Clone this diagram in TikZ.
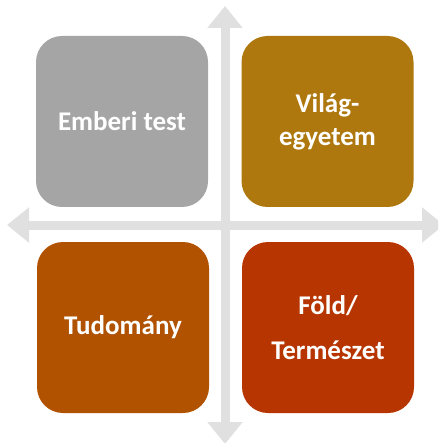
\documentclass[tikz,border=0pt]{standalone}
\usepackage{fontspec}
\setmainfont{Carlito}
\usetikzlibrary{arrows.meta}
\definecolor{axisgray}{HTML}{E0E0E0}
\definecolor{cgray}{HTML}{A5A5A5}
\definecolor{cgold}{HTML}{AE780E}
\definecolor{corange}{HTML}{B05200}
\definecolor{cred}{HTML}{B73500}
\tikzset{
  quad/.style={rounded corners=26pt, minimum width=172pt, minimum height=171pt,
    inner sep=0pt, text=white, font=\bfseries\fontsize{27}{33}\selectfont, align=center},
  axisline/.style={draw=axisgray, line width=9pt,
    {Triangle[width=34pt,length=22pt]}-{Triangle[width=34pt,length=22pt]}}
}
\begin{document}
\begin{tikzpicture}[x=1pt,y=-1pt]
\useasboundingbox (0,0) rectangle (438,443);
\clip (0,0) rectangle (438,443);
\coordinate (L) at (7,225);
\coordinate (R) at (444,225);
\coordinate (T) at (225,6);
\coordinate (B) at (225,444);
\draw[axisline] (L) -- (R);
\draw[axisline] (T) -- (B);
\node[quad, fill=cgray] (tl) at (122,121.5) {Emberi test};
\node[quad, fill=cgold] (tr) at (327.5,121.5) {Világ-\\egyetem};
\node[quad, fill=corange] (bl) at (123,327.5) {Tudomány};
\node[quad, fill=cred, font=\bfseries\fontsize{27}{45}\selectfont] (br) at (328,327.5) {Föld/\\Természet};
\end{tikzpicture}
\end{document}
